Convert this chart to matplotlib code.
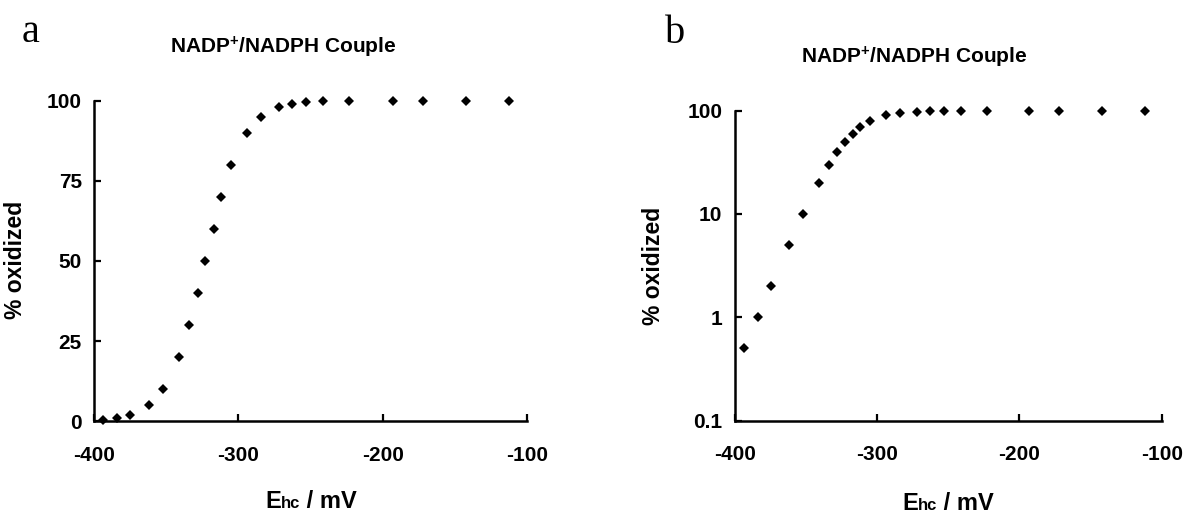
import matplotlib
matplotlib.use("Agg")
import matplotlib.pyplot as plt
from matplotlib.ticker import FixedLocator, FixedFormatter

# ---- data ----
ehc_mv = [-394, -384, -375, -362, -352, -341, -334, -328, -323, -317, -312, -305,
          -294, -284, -272, -263, -253, -241, -223, -193, -172, -142, -112]
pct_oxidized = [0.5, 1, 2, 5, 10, 20, 30, 40, 50, 60, 70, 80,
                90, 95, 98, 99, 99.5, 99.8, 99.9, 100, 100, 100, 100]
x_ticks = [-400, -300, -200, -100]
x_tick_labels = ["-400", "-300", "-200", "-100"]
y_ticks_lin = [0, 25, 50, 75, 100]
y_ticks_log = [0.1, 1, 10, 100]
y_tick_labels_log = ["0.1", "1", "10", "100"]
title_text = "NADP$^{+}$/NADPH Couple"
ylabel_text = "% oxidized"

plt.rcParams['font.family'] = ['Liberation Sans', 'DejaVu Sans']
plt.rcParams['font.weight'] = 'bold'
plt.rcParams['mathtext.fontset'] = 'custom'
for k in ('rm', 'bf', 'it', 'sf'):
    plt.rcParams['mathtext.' + k] = 'Liberation Sans:bold'

W, H = 1183, 515
fig = plt.figure(figsize=(W / 100, H / 100), dpi=100)

def px(x, y):
    return x / W, 1 - y / H

def make_axes(l, t, r, b):
    return fig.add_axes([l / W, 1 - b / H, (r - l) / W, (b - t) / H])

ax_a = make_axes(94.3, 100.7, 526.7, 421.2)
ax_b = make_axes(735.0, 110.7, 1161.7, 420.5)

for ax in (ax_a, ax_b):
    ax.plot(ehc_mv, pct_oxidized, linestyle='none', marker='D', markersize=5.0,
            color='black', markeredgewidth=0, clip_on=False, zorder=5)
    for s in ('top', 'right'):
        ax.spines[s].set_visible(False)
    for s in ('left', 'bottom'):
        ax.spines[s].set_linewidth(1.8)
    ax.set_xlim(-400, -100)
    ax.set_xticks(x_ticks)
    ax.set_xticklabels(x_tick_labels)
    ax.tick_params(axis='both', direction='in', length=5, width=1.6,
                   labelsize=15)
    ax.tick_params(axis='x', pad=18)
    ax.tick_params(axis='y', pad=9)
    for lab in ax.get_xticklabels() + ax.get_yticklabels():
        lab.set_fontweight('bold')

ax_a.set_ylim(0, 100)
ax_a.set_yticks(y_ticks_lin)
ax_a.set_yticklabels([str(v) for v in y_ticks_lin], fontweight='bold')

ax_b.set_yscale('log')
ax_b.set_ylim(0.1, 100)
ax_b.yaxis.set_major_locator(FixedLocator(y_ticks_log))
ax_b.yaxis.set_major_formatter(FixedFormatter(y_tick_labels_log))
ax_b.yaxis.set_minor_locator(FixedLocator([]))
for lab in ax_b.get_yticklabels():
    lab.set_fontweight('bold')

# titles
fig.text(*px(283, 47), title_text, ha='center', va='center', fontsize=15, fontweight='bold')
fig.text(*px(914, 57), title_text, ha='center', va='center', fontsize=15, fontweight='bold')

# y labels
fig.text(*px(16, 260), ylabel_text, rotation=90, ha='center', va='center', fontsize=16.5, fontweight='bold')
fig.text(*px(654, 266), ylabel_text, rotation=90, ha='center', va='center', fontsize=16.5, fontweight='bold')

# panel letters
fig.text(*px(22, 42), "a", family=['Liberation Serif'], fontweight='normal', fontsize=29, va='baseline', ha='left')
fig.text(*px(665, 43), "b", family=['Liberation Serif'], fontweight='normal', fontsize=29, va='baseline', ha='left')

# x labels: "E" + small "hc" + " / mV"
renderer = fig.canvas.get_renderer()
def xlabel(x0, ybase):
    pieces = [("E", 17), ("hc", 12), (" / mV", 17)]
    x = x0
    for txt, sz in pieces:
        t = fig.text(*px(x, ybase), txt, ha='left', va='baseline', fontsize=sz, fontweight='bold')
        bb = t.get_window_extent(renderer)
        x = bb.x1
xlabel(265, 508)
xlabel(902, 510)

fig.savefig("out.png", dpi=100)
